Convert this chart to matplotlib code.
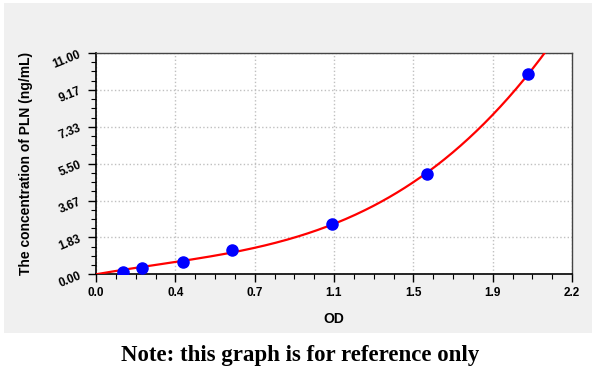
import numpy as np
import matplotlib.pyplot as plt
import matplotlib as mpl
from matplotlib.patches import Rectangle

mpl.rcParams['font.family'] = ['Liberation Sans', 'DejaVu Sans']

# standards
od = [0.126, 0.213, 0.400, 0.627, 1.089, 1.528, 1.997]
conc = [0.13, 0.30, 0.60, 1.21, 2.49, 4.97, 9.96]

x_ticks = [0.0, 2.2 / 6, 2.2 / 3, 1.1, 2.2 * 2 / 3, 2.2 * 5 / 6, 2.2]
x_labels = ["0.0", "0.4", "0.7", "1.1", "1.5", "1.9", "2.2"]
y_ticks = [0.0, 11 / 6, 11 / 3, 5.5, 22 / 3, 55 / 6, 11.0]
y_labels = ["0.00", "1.83", "3.67", "5.50", "7.33", "9.17", "11.00"]

fig = plt.figure(figsize=(6, 3.76), dpi=100)
fig.patches.append(Rectangle((4 / 600, 1 - 333 / 376), 588 / 600, 330 / 376,
                             transform=fig.transFigure, facecolor="#f0f0f0",
                             edgecolor="none", zorder=-5))
ax = fig.add_axes([96 / 600, 1 - 274.3 / 376, 476 / 600, 221.3 / 376])
ax.set_facecolor("white")

# fitted standard curve: cubic through the origin, least squares on the standards
X = np.array(od)
A = np.column_stack([X, X**2, X**3])
c, *_ = np.linalg.lstsq(A, np.array(conc), rcond=None)
xs = np.linspace(0, 2.2, 300)
ys = c[0] * xs + c[1] * xs**2 + c[2] * xs**3
ax.plot(xs, ys, color="red", lw=1.6, zorder=3)
ax.plot(od, conc, "o", color="#0000ff", ms=8, zorder=4)

ax.set_xlim(0, 2.2)
ax.set_ylim(0, 11)
ax.set_xticks(x_ticks, labels=x_labels)
ax.set_yticks(y_ticks, labels=y_labels)
ax.set_xticks(np.arange(0, 2.2001, 2.2 / 24), minor=True)
ax.set_yticks(np.arange(0, 11.001, 11 / 24), minor=True)
ax.tick_params(which="major", direction="out", length=6, width=1, labelsize=8.5)
ax.tick_params(which="minor", direction="out", length=3.5, width=0.8)
for lab in ax.get_xticklabels():
    lab.set_fontweight("bold")
for lab in ax.get_yticklabels():
    lab.set_fontweight("bold")
    lab.set_rotation(22)
ax.grid(True, which="major", color="#c0c0c0", ls=":", lw=1)
for s in ["top", "right"]:
    ax.spines[s].set_color("#444444")
    ax.spines[s].set_linewidth(1)
for s in ["left", "bottom"]:
    ax.spines[s].set_linewidth(1.2)

ax.set_xlabel("OD", fontsize=10, fontweight="bold", labelpad=9)
ax.set_ylabel("The concentration of PLN (ng/mL)", fontsize=10, fontweight="bold", labelpad=13)

fig.text(0.5, 1 - 356 / 376, "Note: this graph is for reference only",
         ha="center", va="center", fontsize=16.5, fontweight="bold",
         family=["Liberation Serif", "DejaVu Serif"])

fig.savefig("out.png", dpi=100)
